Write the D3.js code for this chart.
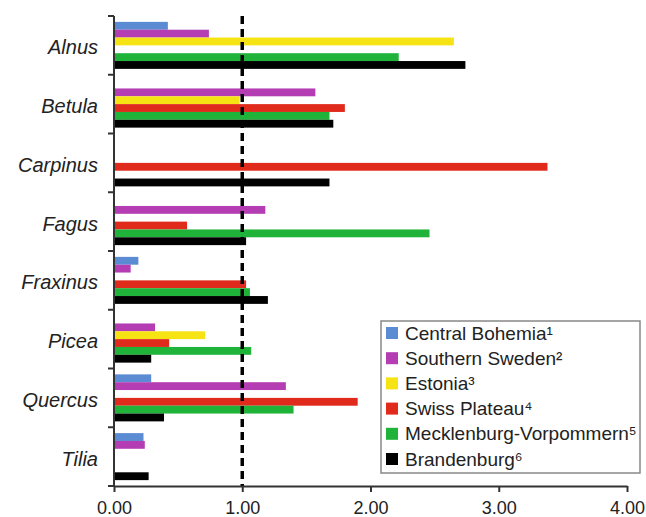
<!DOCTYPE html>
<html>
<head>
<meta charset="utf-8">
<script src="https://cdn.jsdelivr.net/npm/d3@7"></script>
<style>
  html, body { margin: 0; padding: 0; background: #fff; overflow: hidden; }
  svg { display: block; }
  text { font-family: Arial, "Liberation Sans", sans-serif; fill: #222; }
  .species-label { font-style: italic; font-size: 20px; }
  .tick-label { font-size: 18px; }
  .legend-label { font-size: 19px; }
</style>
</head>
<body>
<div id="chart"></div>
<script>
// Species (categories, top to bottom)
const species = ["Alnus", "Betula", "Carpinus", "Fagus", "Fraxinus", "Picea", "Quercus", "Tilia"];

// Regions (series) and their legend text
const regions = ["Central Bohemia¹", "Southern Sweden²", "Estonia³", "Swiss Plateau⁴", "Mecklenburg-Vorpommern⁵", "Brandenburg⁶"];
const regionColors = ["#5b8bd2", "#b43db4", "#f6e313", "#e02a1c", "#1fb33a", "#000000"];

// Values per region, in the order of species (null = no bar)
const centralBohemia = [0.42, null, null, null, 0.19, null, 0.29, 0.23];
const southernSweden = [0.74, 1.57, null, 1.18, 0.13, 0.32, 1.34, 0.24];
const estonia = [2.65, 0.98, null, null, null, 0.71, null, null];
const swissPlateau = [null, 1.80, 3.38, 0.57, 1.03, 0.43, 1.90, null];
const mecklenburgVorpommern = [2.22, 1.68, null, 2.46, 1.06, 1.07, 1.40, null];
const brandenburg = [2.74, 1.71, 1.68, 1.03, 1.20, 0.29, 0.39, 0.27];

const seriesValues = [centralBohemia, southernSweden, estonia, swissPlateau, mecklenburgVorpommern, brandenburg];

// x-axis ticks
const xTicks = [0, 1, 2, 3, 4];
const referenceValue = 1;

const width = 646;
const height = 517;
const margin = { top: 16, right: 19, bottom: 31, left: 114 };
const innerWidth = width - margin.left - margin.right;
const innerHeight = height - margin.top - margin.bottom;

// Build flat table of bars
const bars = [];
species.forEach((sp, i) => {
    regions.forEach((reg, j) => {
        const v = seriesValues[j][i];
        if (v !== null) bars.push({ species: sp, region: reg, value: v });
    });
});

const svg = d3.select("#chart")
    .append("svg")
    .attr("width", width)
    .attr("height", height);

const inner = svg.append("g")
    .attr("transform", `translate(${margin.left},${margin.top})`);

/* Scales */
const xScale = d3.scaleLinear()
    .domain([0, 4])
    .range([0, innerWidth]);

const yScale = d3.scaleBand()
    .domain(species)
    .range([0, innerHeight])
    .paddingInner(0.2)
    .paddingOuter(0.1);

const ySub = d3.scaleBand()
    .domain(regions)
    .range([0, yScale.bandwidth()]);

const colorScale = d3.scaleOrdinal()
    .domain(regions)
    .range(regionColors);

/* Bars */
inner.selectAll("rect.bar")
    .data(bars)
    .join("rect")
    .attr("class", "bar")
    .attr("x", 0)
    .attr("y", d => yScale(d.species) + ySub(d.region))
    .attr("width", d => xScale(d.value))
    .attr("height", ySub.bandwidth())
    .attr("fill", d => colorScale(d.region));

/* Dashed reference line at 1.00 */
inner.append("line")
    .attr("x1", xScale(referenceValue))
    .attr("x2", xScale(referenceValue))
    .attr("y1", 0)
    .attr("y2", innerHeight)
    .attr("stroke", "#000")
    .attr("stroke-width", 3.5)
    .attr("stroke-dasharray", "8,5");

/* Axes */
const xAxis = d3.axisBottom(xScale)
    .tickValues(xTicks)
    .tickFormat(d3.format(".2f"))
    .tickSizeInner(6)
    .tickSizeOuter(0)
    .tickPadding(9);

const xAxisGroup = inner.append("g")
    .attr("transform", `translate(0,${innerHeight})`)
    .call(xAxis);

xAxisGroup.select(".domain").attr("stroke", "#333").attr("stroke-width", 2);
xAxisGroup.selectAll(".tick line").attr("stroke", "#333").attr("stroke-width", 2);
xAxisGroup.selectAll(".tick text")
    .attr("class", "tick-label")
    .attr("fill", "#222")
    .style("font-family", "Arial, 'Liberation Sans', sans-serif")
    .style("font-size", "18px");

// y-axis: ticks between species groups
const boundaries = d3.range(species.length + 1).map(i => i * yScale.step());
const yAxisGroup = inner.append("g");

yAxisGroup.append("line")
    .attr("x1", 0).attr("x2", 0)
    .attr("y1", 0).attr("y2", innerHeight)
    .attr("stroke", "#333")
    .attr("stroke-width", 2);

yAxisGroup.selectAll("line.ytick")
    .data(boundaries)
    .join("line")
    .attr("class", "ytick")
    .attr("x1", -6).attr("x2", 0)
    .attr("y1", d => d).attr("y2", d => d)
    .attr("stroke", "#333")
    .attr("stroke-width", 2);

yAxisGroup.selectAll("text.species-label")
    .data(species)
    .join("text")
    .attr("class", "species-label")
    .attr("x", -16)
    .attr("y", d => yScale(d) - yScale.step() * yScale.paddingOuter() + yScale.step() / 2 + 2)
    .attr("dy", "0.35em")
    .attr("text-anchor", "end")
    .text(d => d);

/* Legend */
const legend = svg.append("g")
    .attr("transform", "translate(381, 321)");

legend.append("rect")
    .attr("width", 259)
    .attr("height", 152)
    .attr("fill", "#fff")
    .attr("stroke", "#888")
    .attr("stroke-width", 1.5);

regions.forEach((reg, i) => {
    const g = legend.append("g").attr("transform", `translate(5, ${12 + i * 25.2})`);
    g.append("rect")
        .attr("width", 12)
        .attr("height", 12)
        .attr("y", -6)
        .attr("fill", colorScale(reg));
    g.append("text")
        .attr("class", "legend-label")
        .attr("x", 19)
        .attr("y", 0)
        .attr("dy", "0.35em")
        .text(reg);
});
</script>
</body>
</html>
